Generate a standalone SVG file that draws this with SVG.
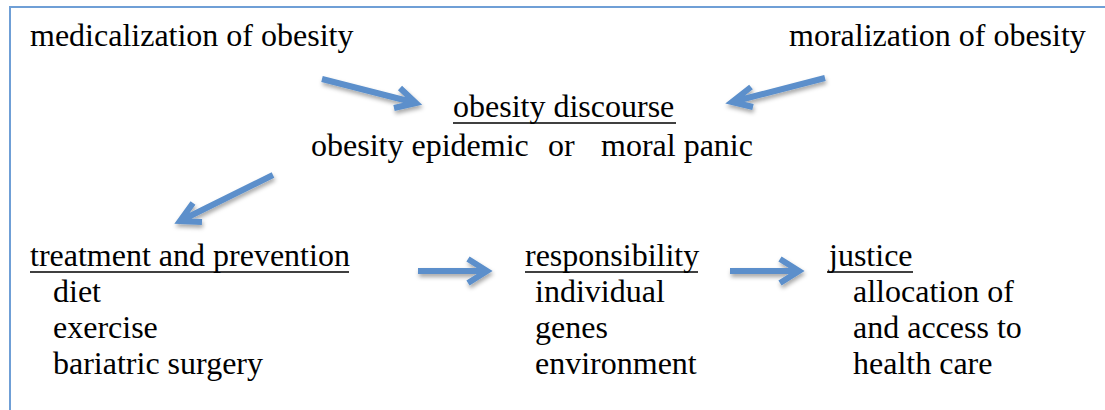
<svg xmlns="http://www.w3.org/2000/svg" width="1105" height="410" viewBox="0 0 1105 410">
<defs>
<filter id="sh" x="-20%" y="-50%" width="140%" height="200%">
<feDropShadow dx="1" dy="3" stdDeviation="2" flood-color="#000" flood-opacity="0.35"/>
</filter>
</defs>
<style>
text{font-family:"Liberation Serif","Times New Roman",serif;font-size:32px;fill:#000}
.ul{stroke:#000;stroke-width:1.6}
.arr{fill:none;stroke:#5b8fcb;stroke-width:6;stroke-linecap:butt;stroke-linejoin:miter;filter:url(#sh)}
</style>
<rect x="10" y="7" width="1120" height="420" fill="#fff" stroke="#6f9fd6" stroke-width="2"/>
<g id="medicalization"><text x="30" y="46">medicalization of obesity</text></g>
<g id="moralization"><text x="789" y="46">moralization of obesity</text></g>
<g id="discourse">
<text x="453" y="117">obesity discourse</text>
<line class="ul" x1="453" y1="123" x2="676" y2="123"/>
<text x="311" y="156">obesity epidemic</text>
<text x="548" y="156">or</text>
<text x="601" y="156">moral panic</text>
</g>
<g id="treatment">
<text x="30" y="266">treatment and prevention</text>
<line class="ul" x1="30" y1="272" x2="349" y2="272"/>
<text x="53" y="302">diet</text>
<text x="53" y="338">exercise</text>
<text x="53" y="374">bariatric surgery</text>
</g>
<g id="responsibility">
<text x="525" y="266">responsibility</text>
<line class="ul" x1="525" y1="272" x2="698" y2="272"/>
<text x="535" y="302">individual</text>
<text x="535" y="338">genes</text>
<text x="535" y="374">environment</text>
</g>
<g id="justice">
<text x="829" y="266">justice</text>
<line class="ul" x1="827" y1="272" x2="913" y2="272"/>
<text x="853" y="302">allocation of</text>
<text x="853" y="338">and access to</text>
<text x="853" y="374">health care</text>
</g>
<g id="connectors">
<path class="arr" d="M322 79 L416 103 M400 88 L416 103 L394 108"/>
<path class="arr" d="M825 78 L732 102 M751 87 L732 102 L753 107"/>
<path class="arr" d="M273 175 L180 221 M193 203 L180 221 L202 222"/>
<path class="arr" d="M418 271 L487 271 M468 259 L487 271 L468 283"/>
<path class="arr" d="M730 271 L799 271 M780 259 L799 271 L780 283"/>
</g>
</svg>
